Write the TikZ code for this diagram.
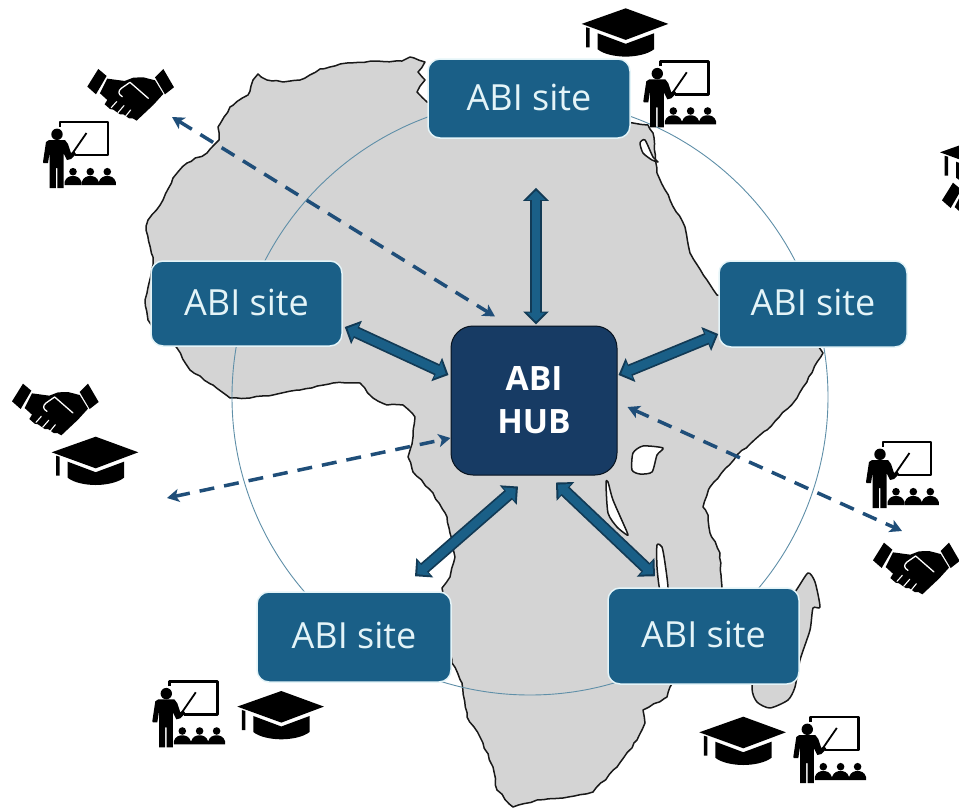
\documentclass[tikz,border=0pt]{standalone}
\usepackage{fontspec}
\setmainfont{Open Sans}
\usetikzlibrary{arrows.meta,calc,decorations.pathmorphing}
\definecolor{sitefill}{HTML}{1A5F87}
\definecolor{hubfill}{HTML}{173B64}
\definecolor{arrowedge}{HTML}{123A55}
\definecolor{dashcol}{HTML}{1F4E79}
\definecolor{mapgrey}{HTML}{D4D4D4}
\definecolor{ringcol}{HTML}{5F8FA8}
\definecolor{boxedge}{HTML}{E4F4F8}
\pgfmathsetseed{7}
\newcommand\sitelabel{\raisebox{2.5pt}{ABI site}}
\tikzset{
  sitebox/.style={draw=boxedge,line width=1.5pt,fill=sitefill,rounded corners=12pt,text=boxedge,inner sep=0pt,font=\fontsize{36}{38}\selectfont},
  hubbox/.style={draw=black!70!hubfill,line width=1pt,fill=hubfill,rounded corners=22pt,text=white,inner sep=0pt,align=center,font=\fontsize{33.5}{43}\selectfont\bfseries},
  coast/.style={draw=black!90,line width=1.5pt,line join=round},
  lake/.style={coast,fill=white},
  roughcoast/.style={coast,fill=mapgrey,decorate,decoration={random steps,segment length=6pt,amplitude=0.8pt}},
  outerarrow/.style={draw=arrowedge,line width=12pt,{Triangle[width=25pt,length=13pt,fill=arrowedge]}-{Triangle[width=25pt,length=13pt,fill=arrowedge]}},
  innerarrow/.style={draw=sitefill,line width=8.5pt,shorten <=3pt,shorten >=3pt,{Triangle[width=18pt,length=9pt,fill=sitefill]}-{Triangle[width=18pt,length=9pt,fill=sitefill]}},
  dasharrow/.style={draw=dashcol,line width=3.5pt,dash pattern=on 15pt off 10pt,{Stealth[width=13pt,length=12pt,inset=3pt]}-{Stealth[width=13pt,length=12pt,inset=3pt]}},
  teacher/.pic={
    \draw[black,line width=2.6pt,line join=round] (17,7) -- (17,2) -- (65,2) -- (65,35) -- (32,35);
    \fill[black] (14,14.3) circle (5.7);
    \draw[black,line width=1.8pt] (29,34) -- (43.5,13);
    \fill[black] (3,22) -- (6,20) -- (22,20) -- (25,24) -- (28,33) -- (31,31) -- (33,34) -- (28,39) -- (24,40) -- (20.5,33) -- (20.5,68) -- (14.3,68) -- (14.3,48) -- (12.8,48) -- (12.8,68) -- (6.7,68) -- (6.7,32) -- (5,43) -- (0.5,43) -- (0,42) -- cycle;
    \foreach \cx in {30,47.3,64.3}{
      \fill[black] (\cx,51.7) circle (3.8);
      \fill[black] (\cx-8.5,65) -- (\cx-8.5,62) .. controls (\cx-7,57) and (\cx-3,56) .. (\cx,56) .. controls (\cx+3,56) and (\cx+7,57) .. (\cx+8.5,62) -- (\cx+8.5,65) -- cycle;
    }
  },
  gradcap/.pic={
    \fill[black] (44,0) -- (0,15.6) -- (44,31.6) -- (86.6,15.6) -- cycle;
    \fill[black] (4.5,19) -- (8,20) -- (8,39) -- (4.5,39) -- cycle;
    \fill[black] (16,25) -- (44,35.5) -- (72.3,25) -- (72.3,41) .. controls (66,46) and (54,48.3) .. (44,48.3) .. controls (34,48.3) and (22,46) .. (16,41) -- cycle;
  },
  handshake/.pic={
    \begin{scope}[scale=1/3]
    \fill[black] (33,2) -- (58,23) -- (26,78) -- (0,55) -- cycle;
    \fill[black] (228,2) -- (260,57) -- (233,78) -- (203,27) -- cycle;
    \fill[black] (60,31) -- (112,38) -- (138,28) -- (168,27) -- (203,36) -- (228,77) -- (198,110) -- (148,157)
      -- (136,150) -- (125,150) -- (108,138) -- (98,138) -- (78,124) -- (68,122) -- (52,108) -- (60,95) -- (38,75) -- cycle;
    \draw[white,line width=1.3pt,line cap=round,line join=round] (105,85) .. controls (92,78) and (92,68) .. (102,60) -- (128,42) -- (183,90);
    \draw[white,line width=1.1pt,line cap=round] (72,118) -- (88,100) (92,133) -- (110,112) (114,145) -- (130,125);
    \end{scope}
  }
}
\newcommand\thickarrow[2]{\draw[outerarrow] #1 -- #2; \draw[innerarrow] #1 -- #2;}
\begin{document}
\begin{tikzpicture}[x=1pt,y=-1pt]
\useasboundingbox (0,0) rectangle (959,809);
\clip (0,0) rectangle (959,809);
% map
\draw[roughcoast] (425,62) -- (410,57) -- (402,61) -- (377,61) -- (347,63) -- (320,69) -- (300,80) -- (283,82) -- (267,80) -- (258,74) -- (253,80) -- (248,95) -- (230,107) -- (218,127) -- (219,140) -- (207,153) -- (187,163) -- (173,178) -- (163,200) -- (148,220) -- (146,230) -- (153,257) -- (153,265) -- (147,293) -- (145,300) -- (148,320) -- (160,335) -- (177,348) -- (190,370) -- (213,385) -- (230,398) -- (250,398) -- (273,395) -- (300,390) -- (333,383) -- (360,383) -- (373,398) -- (387,405) -- (403,405) -- (415,417) -- (413,437) -- (408,457) -- (413,472) -- (433,493) -- (447,517) -- (450,533) -- (455,557) -- (450,577) -- (442,588) -- (445,630) -- (452,663) -- (462,683) -- (467,717) -- (480,737) -- (493,767) -- (497,790) -- (513,807) -- (537,800) -- (563,798) -- (593,792) -- (617,767) -- (637,740) -- (645,723) -- (643,710) -- (667,697) -- (670,687) -- (700,640) -- (722,587) -- (720,553) -- (710,533) -- (708,515) -- (703,507) -- (710,487) -- (737,455) -- (767,430) -- (797,398) -- (823,353) -- (800,320) -- (717,295) -- (707,280) -- (690,253) -- (685,227) -- (670,200) -- (657,173) -- (653,133) -- (648,125) -- (633,123) -- (560,110) -- (427,102) -- (417,92) -- (425,80) -- (418,72) -- cycle;
\draw[lake] plot[smooth cycle,tension=0.4] coordinates {(632,470) (633,453) (643,446) (663,448) (657,455) (652,472) (640,474)};
\draw[lake] plot[smooth cycle,tension=0.4] coordinates {(606,483) (608,482) (613,500) (627,532) (627,535) (617,527) (608,513)};
\draw[lake] plot[smooth cycle,tension=0.4] coordinates {(657,545) (662,547) (665,563) (668,590) (660,590) (657,567)};
\draw[lake] plot[smooth cycle,tension=0.4] coordinates {(640,143) (645,140) (653,157) (658,162) (652,160) (643,153)};
\draw[coast,fill=mapgrey] plot[smooth cycle,tension=0.4] coordinates {(808,573) (815,582) (820,607) (813,608) (810,630) (800,660) (795,687) (788,700) (770,708) (757,702) (752,687) (760,640) (795,592)};
% ring
\node[draw=ringcol,line width=0.9pt,circle,minimum size=596pt,inner sep=0pt] (ring) at (530,397) {};
% boxes
\node[sitebox,minimum width=202pt,minimum height=79pt] (top) at (529,98.5) {\sitelabel};
\node[sitebox,minimum width=191pt,minimum height=85pt] (west) at (246.5,303.5) {\sitelabel};
\node[sitebox,minimum width=188pt,minimum height=86pt] (east) at (813,304) {\sitelabel};
\node[sitebox,minimum width=194pt,minimum height=90pt] (sw) at (354,637) {\sitelabel};
\node[sitebox,minimum width=191pt,minimum height=96pt] (se) at (703.5,636) {\sitelabel};
\node[hubbox,minimum width=166pt,minimum height=149pt] (hub) at (534,400.5) {ABI\\HUB};
% icons
\pic at (43,120) {teacher};
\pic at (643.3,59.3) {teacher};
\pic at (866,440) {teacher};
\pic at (152.3,679.3) {teacher};
\pic at (793.3,715) {teacher};
\pic at (581.7,8.3) {gradcap};
\pic at (51.7,436.7) {gradcap};
\pic at (237.3,691) {gradcap};
\pic at (699.3,716.7) {gradcap};
\pic at (940,136.7) {gradcap};
\pic at (87.3,68.3) {handshake};
\pic at (12,383) {handshake};
\pic at (873,542) {handshake};
\pic at (942,182) {handshake};
% free ends
\coordinate (nw) at (172,117);
\coordinate (wfar) at (167,498);
\coordinate (sefar) at (902,531);
% connectors
\thickarrow{($(top.south)+(7,49)$)}{($(hub.north)+(2,-1)$)}
\thickarrow{($(west.east)+(2,23.5)$)}{($(hub.west)+(-2,-25.5)$)}
\thickarrow{($(east.west)+(0,30)$)}{($(hub.east)+(1,-25.5)$)}
\thickarrow{($(sw.north)+(61,-15)$)}{($(hub.south)+(-16,11)$)}
\thickarrow{($(se.north)+(-48.5,-11)$)}{($(hub.south)+(22,7)$)}
\draw[dasharrow] (nw) -- ($(hub.north)+(-39,-9)$);
\draw[dasharrow] (wfar) -- ($(hub.west)+(0,37.5)$);
\draw[dasharrow] ($(hub.east)+(10,6.5)$) -- (sefar);
\end{tikzpicture}
\end{document}
